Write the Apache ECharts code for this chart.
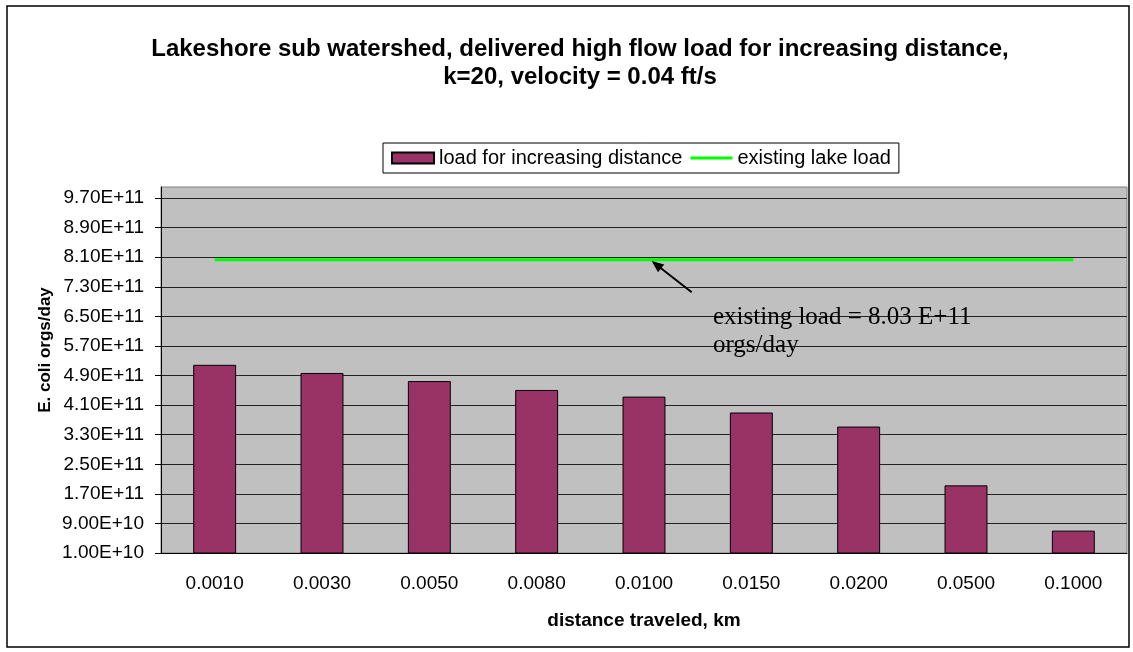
<!DOCTYPE html>
<html><head><meta charset="utf-8">
<script src="https://cdn.jsdelivr.net/npm/echarts@6/dist/echarts.min.js"></script>
<style>html,body{margin:0;padding:0;background:#fff}#c{width:1133px;height:652px}</style>
</head><body><div id="c"></div>
<script>
const categories = ['0.0010','0.0030','0.0050','0.0080','0.0100','0.0150','0.0200','0.0500','0.1000'];
const loadValues = [5.19e11, 4.97e11, 4.75e11, 4.51e11, 4.33e11, 3.90e11, 3.52e11, 1.93e11, 7.05e10];
const lakeLoad = [8.03e11, 8.03e11, 8.03e11, 8.03e11, 8.03e11, 8.03e11, 8.03e11, 8.03e11, 8.03e11];
const yMin = 1e10, yMax = 1e12, yStep = 8e10;
const yTickValues = [1e10, 9e10, 1.7e11, 2.5e11, 3.3e11, 4.1e11, 4.9e11, 5.7e11, 6.5e11, 7.3e11, 8.1e11, 8.9e11, 9.7e11];
const seriesNames = ['load for increasing distance', 'existing lake load'];
const titleText = 'Lakeshore sub watershed, delivered high flow load for increasing distance,\nk=20, velocity = 0.04 ft/s';
const xTitle = 'distance traveled, km';
const yTitle = 'E. coli orgs/day';
const noteText = 'existing load = 8.03 E+11\norgs/day';

const SANS = 'Liberation Sans';
function fmt(v){
  if (v > 9.9e11) return '';
  return v.toExponential(2).toUpperCase();
}
const chart = echarts.init(document.getElementById('c'), null, {renderer:'canvas'});
chart.setOption({
  backgroundColor:'#fff',
  animation:false,
  title:{
    text:titleText, left:575, top:30, textAlign:'center',
    textStyle:{fontFamily:SANS, fontSize:24, fontWeight:'bold', color:'#000', lineHeight:28}
  },
  legend:{
    left:383, top:143, itemWidth:42, itemHeight:11, itemGap:8,
    borderColor:'#000', borderWidth:1, backgroundColor:'#fff', padding:[5,8],
    textStyle:{fontFamily:SANS, fontSize:20, color:'#000'},
    data:[
      {name:seriesNames[0], icon:'rect'},
      {name:seriesNames[1], icon:'path://M0,0L0.01,0L0.01,0.01ZM0,4L42,4L42,7L0,7ZM0,11L0.01,11L0.01,10.99Z'}
    ]
  },
  grid:{left:161, right:6, top:187, bottom:99, show:true, backgroundColor:'#C0C0C0', borderColor:'#808080', borderWidth:1},
  xAxis:{
    type:'category', data:categories, boundaryGap:true,
    axisLine:{lineStyle:{color:'#000', width:1}},
    axisTick:{show:false},
    axisLabel:{fontFamily:SANS, fontSize:19, color:'#000', margin:21},
    name:xTitle, nameLocation:'middle', nameGap:58,
    nameTextStyle:{fontFamily:SANS, fontSize:19, fontWeight:'bold', color:'#000'}
  },
  yAxis:{
    type:'value', min:yMin, max:yMax, interval:yStep,
    axisLine:{show:true, lineStyle:{color:'#000', width:1}},
    axisTick:{show:true, length:6, lineStyle:{color:'#000'}, customValues:yTickValues},
    splitLine:{show:true, lineStyle:{color:'#222', width:1}},
    axisLabel:{fontFamily:SANS, fontSize:19, color:'#000', margin:17, formatter:fmt}
  },
  series:[
    {name:seriesNames[0], type:'bar', data:loadValues, barCategoryGap:'60%',
     itemStyle:{color:'#993366', borderColor:'#000', borderWidth:1}},
    {name:seriesNames[1], type:'line', data:lakeLoad, symbol:'none', z:5,
     itemStyle:{color:'#00FF00'}, lineStyle:{color:'#00FF00', width:3}}
  ],
  graphic:[
    {type:'rect', shape:{x:7, y:6, width:1122, height:641}, style:{fill:'none', stroke:'#000', lineWidth:1.5}, silent:true},
    {type:'text', x:45, y:350, rotation:Math.PI/2,
     style:{text:yTitle, font:'bold 17px "Liberation Sans"', fill:'#000', align:'center', verticalAlign:'middle'}},
    {type:'text', x:713, y:303, z:10,
     style:{text:noteText, font:'25px "Liberation Serif"', fill:'#000', lineHeight:28}},
    {type:'line', shape:{x1:691.7, y1:292.3, x2:660, y2:267.5}, style:{stroke:'#000', lineWidth:2}, z:10},
    {type:'polygon', shape:{points:[[651.7,261],[664.2,264.5],[658.0,272.3]]}, style:{fill:'#000'}, z:10}
  ]
});
</script></body></html>
